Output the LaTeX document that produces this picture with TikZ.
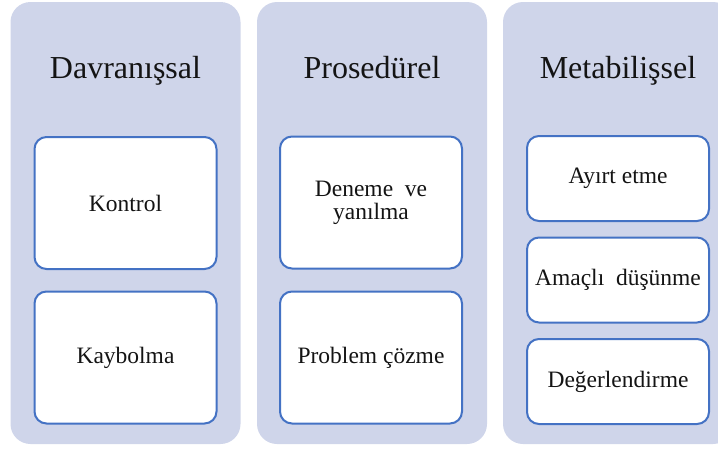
\documentclass[tikz,border=0pt]{standalone}
\usepackage{fontspec}
\setmainfont{Liberation Serif}
\usepackage{tikz}
\definecolor{colfill} {RGB}{207, 213, 234}
\definecolor{boxline} {RGB}{68,  114, 196}
\definecolor{bodytext}{RGB}{20,   20,  20}

\begin{document}
\begin{tikzpicture}[x=1pt, y=-1pt,
  column/.style={fill=colfill, rounded corners=20pt, inner sep=0pt,
    minimum width=230pt, minimum height=442pt},
  heading/.style={bodytext, anchor=base, font=\fontsize{32}{38}\selectfont},
  item/.style={draw=boxline, line width=2pt, fill=white, rounded corners=12pt,
    inner sep=0pt, minimum width=182pt, align=center, text=bodytext,
    font=\fontsize{23.5}{23}\selectfont},
  tallitem/.style={item, minimum height=132pt},
  shortitem/.style={item, minimum height=85pt}]
  \useasboundingbox (0,0) rectangle (718,448);
  \clip (0,0) rectangle (718,448);
  % columns
  \node[column] (davr) at (125.5,223) {};
  \node[column] (pros) at (372,223) {};
  \node[column] (meta) at (618,223) {};
  % headings
  \node[heading] (davr-title) at (125.5,78) {Davranışsal};
  \node[heading] (pros-title) at (372,78) {Prosedürel};
  \node[heading] (meta-title) at (618,78) {Metabilişsel};
  % items
  \node[tallitem] (davr-a) at (125.5,203) {Kontrol};
  \node[tallitem] (davr-b) at (125.5,357.5) {Kaybolma};
  \node[tallitem] (pros-a) at (371,202.5) {Deneme\ \ ve\\yanılma};
  \node[tallitem] (pros-b) at (371,357.5) {Problem çözme};
  \node[shortitem] (meta-a) at (618,178.5) {Ayırt etme};
  \node[shortitem] (meta-b) at (618,280) {Amaçlı\ \ düşünme};
  \node[shortitem] (meta-c) at (618,381.5) {Değerlendirme};
\end{tikzpicture}
\end{document}
